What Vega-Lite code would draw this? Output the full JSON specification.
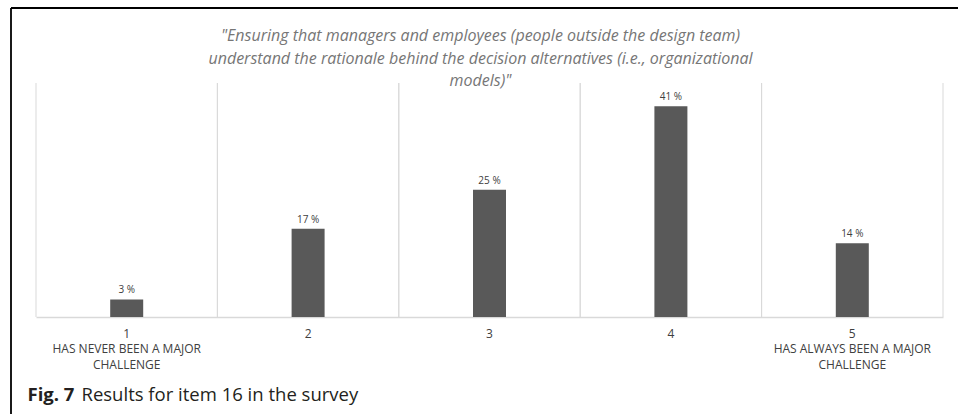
{
  "$schema": "https://vega.github.io/schema/vega-lite/v6.json",
  "width": 947,
  "height": 309,
  "autosize": {"type": "none"},
  "padding": {"left": 11, "top": 8, "right": 0, "bottom": 97},
  "background": "white",
  "config": {"view": {"stroke": null}, "font": "Open Sans"},
  "title": {
    "text": [
      "\"Ensuring that managers and employees (people outside the design team)",
      "understand the rationale behind the decision alternatives (i.e., organizational",
      "models)\""
    ],
    "frame": "group",
    "anchor": "middle",
    "offset": -82,
    "dx": -4,
    "font": "Open Sans",
    "fontSize": 16,
    "fontStyle": "italic",
    "fontWeight": "normal",
    "color": "#767676",
    "lineHeight": 22.5
  },
  "data": {
    "values": [
      {"label": "1\nHAS NEVER BEEN A MAJOR\nCHALLENGE", "value": 3.4, "pct": "3 %"},
      {"label": "2", "value": 17.1, "pct": "17 %"},
      {"label": "3", "value": 24.7, "pct": "25 %"},
      {"label": "4", "value": 40.9, "pct": "41 %"},
      {"label": "5\nHAS ALWAYS BEEN A MAJOR\nCHALLENGE", "value": 14.3, "pct": "14 %"}
    ]
  },
  "layer": [
    {
      "mark": {"type": "rule", "color": "#d9d9d9", "strokeWidth": 1},
      "encoding": {
        "x": {"field": "label", "type": "nominal", "bandPosition": 0, "scale": {"type": "band", "range": [25, 932], "paddingInner": 0, "paddingOuter": 0}, "axis": null},
        "y": {"datum": 0, "type": "quantitative", "scale": {"domain": [0, 45.4], "range": [309, 75], "nice": false}, "axis": null},
        "y2": {"datum": 45.4}
      }
    },
    {
      "mark": {"type": "rule", "color": "#d9d9d9", "strokeWidth": 1},
      "encoding": {
        "x": {"field": "label", "type": "nominal", "bandPosition": 1, "scale": {"type": "band", "range": [25, 932], "paddingInner": 0, "paddingOuter": 0}, "axis": null},
        "y": {"datum": 0, "type": "quantitative", "scale": {"domain": [0, 45.4], "range": [309, 75], "nice": false}, "axis": null},
        "y2": {"datum": 45.4}
      }
    },
    {
      "mark": {"type": "bar", "width": 33, "color": "#595959"},
      "encoding": {
        "x": {
          "field": "label", "type": "nominal",
          "scale": {"type": "band", "range": [25, 932], "paddingInner": 0, "paddingOuter": 0},
          "axis": {
            "title": "Results for item 16 in the survey",
            "titleX": 70, "titleY": 83, "titleAlign": "left", "titleAnchor": null, "titleBaseline": "alphabetic",
            "titleFont": "Open Sans", "titleFontSize": 18.5, "titleFontWeight": "normal", "titleColor": "#231f20",
            "labelExpr": "split(datum.label, '\\n')",
            "labelAngle": 0, "labelFontSize": 12, "labelColor": "#404040", "labelLineHeight": 15.5,
            "labelPadding": 11, "labelOverlap": false, "labelFlush": false, "labelBound": false, "labelLimit": 300,
            "ticks": false, "domainColor": "#d9d9d9", "domainWidth": 1.5, "grid": false
          }
        },
        "y": {
          "field": "value", "type": "quantitative",
          "scale": {"domain": [0, 45.4], "range": [309, 75], "nice": false},
          "axis": {
            "title": "Fig. 7", "titleAngle": 0, "titleX": 16, "titleY": 392, "titleAlign": "left", "titleBaseline": "alphabetic",
            "titleFont": "Open Sans", "titleFontSize": 18.5, "titleFontWeight": "bold", "titleColor": "#231f20",
            "labels": false, "ticks": false, "domain": false, "grid": false
          }
        }
      }
    },
    {
      "mark": {"type": "text", "baseline": "bottom", "dy": -4, "fontSize": 10, "color": "#404040", "font": "Open Sans"},
      "encoding": {
        "x": {"field": "label", "type": "nominal", "scale": {"type": "band", "range": [25, 932], "paddingInner": 0, "paddingOuter": 0}, "axis": null},
        "y": {"field": "value", "type": "quantitative", "scale": {"domain": [0, 45.4], "range": [309, 75], "nice": false}, "axis": null},
        "text": {"field": "pct"}
      }
    },
    {
      "data": {"values": [{}]},
      "mark": {"type": "rule", "color": "black", "strokeWidth": 1.8},
      "encoding": {
        "x": {"datum": 0, "type": "quantitative", "scale": {"domain": [0, 1], "nice": false}, "axis": null},
        "y": {"datum": 1, "type": "quantitative", "scale": {"domain": [0, 1], "nice": false}, "axis": null},
        "y2": {"datum": -0.32}
      }
    },
    {
      "data": {"values": [{}]},
      "mark": {"type": "rule", "color": "black", "strokeWidth": 1.8},
      "encoding": {
        "x": {"datum": 0, "type": "quantitative", "scale": {"domain": [0, 1], "nice": false}, "axis": null},
        "x2": {"datum": 1},
        "y": {"datum": 1, "type": "quantitative", "scale": {"domain": [0, 1], "nice": false}, "axis": null}
      }
    }
  ],
  "resolve": {"scale": {"x": "independent", "y": "independent"}}
}
